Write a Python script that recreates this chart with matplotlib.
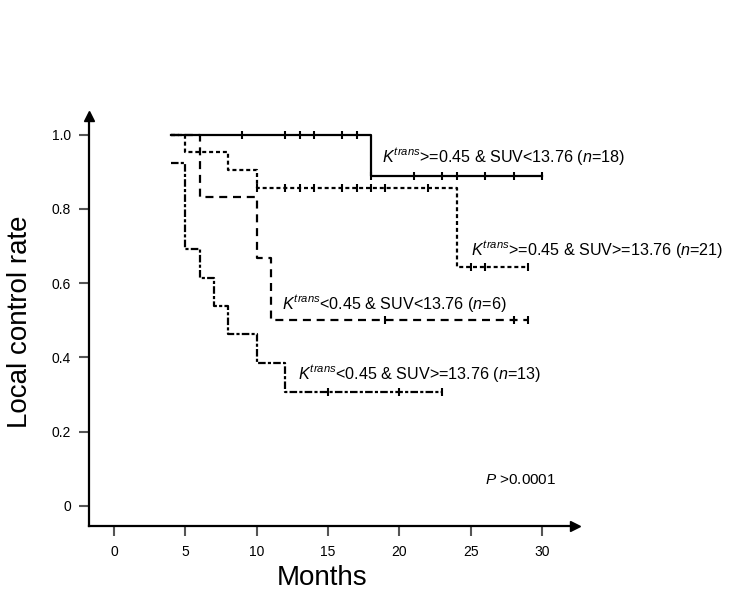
import numpy as np
import matplotlib
matplotlib.use("Agg")
import matplotlib.pyplot as plt

plt.rcParams['font.family'] = ['Liberation Sans', 'DejaVu Sans']
plt.rcParams['mathtext.fontset'] = 'custom'
plt.rcParams['mathtext.rm'] = 'Liberation Sans'
plt.rcParams['mathtext.it'] = 'Liberation Sans:italic'

# Kaplan-Meier curves (months, local control rate) and censor times
hi_lo_t = [4, 18, 30]
hi_lo_s = [1.0, 0.889, 0.889]
hi_lo_cens = [9, 12, 13, 14, 16, 17, 18, 21, 23, 24, 26, 28, 30]

hi_hi_t = [4, 5, 8, 10, 24, 29]
hi_hi_s = [1.0, 0.952, 0.905, 0.857, 0.643, 0.643]
hi_hi_cens = [10, 12, 13, 14, 16, 17, 18, 19, 22, 25, 26, 29]

lo_lo_t = [4, 6, 10, 11, 29]
lo_lo_s = [1.0, 0.833, 0.667, 0.5, 0.5]
lo_lo_cens = [19, 28, 29]

lo_hi_t = [4, 5, 6, 7, 8, 10, 12, 23]
lo_hi_s = [0.923, 0.692, 0.615, 0.538, 0.462, 0.385, 0.308, 0.308]
lo_hi_cens = [15, 20, 23]

x_ticks = [0, 5, 10, 15, 20, 25, 30]
y_ticks = [0, 0.2, 0.4, 0.6, 0.8, 1.0]
y_ticklabels = ['0', '0.2', '0.4', '0.6', '0.8', '1.0']


def surv_at(t, s, c):
    t = np.asarray(t)
    s = np.asarray(s)
    idx = np.searchsorted(t, c, side='right') - 1
    return s[idx]


fig = plt.figure(figsize=(7.54, 6.01), dpi=100)
ax = fig.add_axes([89 / 754, 75 / 601, (575 - 89) / 754, (526 - 116) / 601])

curves = [
    (hi_lo_t, hi_lo_s, hi_lo_cens, '-'),
    (hi_hi_t, hi_hi_s, hi_hi_cens, (0, (1.8, 1.3))),
    (lo_lo_t, lo_lo_s, lo_lo_cens, (0, (3.6, 2.6))),
    (lo_hi_t, lo_hi_s, lo_hi_cens, (0, (3.4, 1.0, 1.4, 1.0))),
]
for t, s, cens, ls in curves:
    ax.step(t, s, where='post', color='black', lw=1.6, linestyle=ls)
    ax.plot(cens, surv_at(t, s, cens), linestyle='none', marker='|',
            color='black', markersize=6, mew=1.5)

ax.set_xlim(-1.75, 32.3)
ax.set_ylim(-0.054, 1.05)
ax.spines['top'].set_visible(False)
ax.spines['right'].set_visible(False)
ax.spines['left'].set_linewidth(1.6)
ax.spines['bottom'].set_linewidth(1.6)

# arrow heads on the axes
ax.plot([0], [1], marker='^', color='black', markersize=7, transform=ax.transAxes, clip_on=False)
ax.plot([1], [0], marker='>', color='black', markersize=7, transform=ax.transAxes, clip_on=False)

ax.set_xticks(x_ticks)
ax.set_yticks(y_ticks)
ax.set_yticklabels(y_ticklabels)
ax.tick_params(axis='both', direction='out', length=7, width=1.5, color='#555555',
               labelsize=10)
ax.tick_params(axis='x', pad=7)
ax.tick_params(axis='y', pad=6)

fig.text(20 / 754, 1 - 322 / 601, 'Local control rate', rotation=90,
         ha='center', va='center', fontsize=20)
fig.text(322 / 754, 1 - 578 / 601, 'Months', ha='center', va='center', fontsize=20)

lab_kw = dict(fontsize=11.6, va='center', ha='left')
ax.text(18.8, 0.94, r'$K^{trans}$>=0.45 & SUV<13.76 ($n$=18)', **lab_kw)
ax.text(25.0, 0.69, r'$K^{trans}$>=0.45 & SUV>=13.76 ($n$=21)', **lab_kw)
ax.text(11.8, 0.545, r'$K^{trans}$<0.45 & SUV<13.76 ($n$=6)', **lab_kw)
ax.text(12.9, 0.357, r'$K^{trans}$<0.45 & SUV>=13.76 ($n$=13)', **lab_kw)
ax.text(26.0, 0.07, r'$P$ >0.0001', fontsize=11, va='center', ha='left')

fig.savefig('out.png', dpi=100)
